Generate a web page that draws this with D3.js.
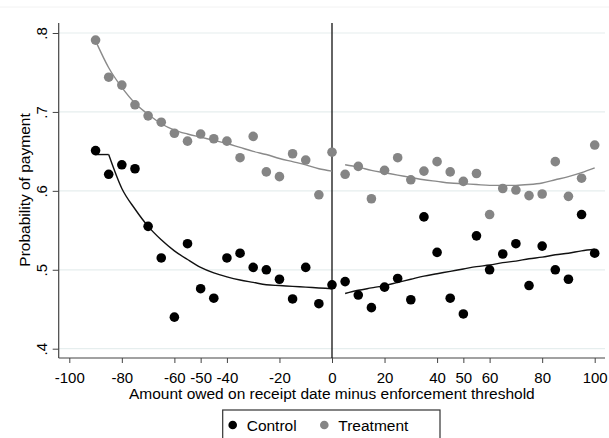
<!DOCTYPE html>
<html><head><meta charset="utf-8">
<script src="https://cdn.jsdelivr.net/npm/d3@7"></script>
<style>body{margin:0;background:#fff}svg{display:block;font-family:"Liberation Sans",Arial,sans-serif}</style>
</head><body>
<svg id="c" width="609" height="438"></svg>
<script>
const xs = [-90,-85,-80,-75,-70,-65,-60,-55,-50,-45,-40,-35,-30,-25,-20,-15,-10,-5,0,5,10,15,20,25,30,35,40,45,50,55,60,65,70,75,80,85,90,95,100];
const controlVals = [0.651,0.621,0.633,0.628,0.555,0.515,0.440,0.533,0.476,0.464,0.515,0.521,0.503,0.500,0.488,0.463,0.503,0.457,0.481,0.485,0.468,0.452,0.478,0.489,0.462,0.567,0.522,0.464,0.444,0.543,0.500,0.520,0.533,0.480,0.530,0.500,0.488,0.570,0.521];
const treatmentVals = [0.791,0.744,0.734,0.709,0.695,0.687,0.673,0.663,0.672,0.666,0.663,0.642,0.669,0.624,0.618,0.647,0.639,0.595,0.649,0.621,0.631,0.590,0.626,0.642,0.614,0.625,0.637,0.624,0.612,0.622,0.570,0.603,0.601,0.594,0.596,0.637,0.593,0.616,0.658];
const fitXLeft = [-90,-85,-80,-75,-70,-65,-60,-55,-50,-45,-40,-35,-30,-25,-20,-15,-10,-5,0];
const fitXRight = [5,10,15,20,25,30,35,40,45,50,55,60,65,70,75,80,85,90,95,100];
const controlFitLeft = [0.646,0.646,0.603,0.577,0.555,0.538,0.524,0.513,0.503,0.496,0.491,0.487,0.484,0.481,0.480,0.479,0.478,0.477,0.476];
const controlFitRight = [0.470,0.474,0.477,0.480,0.484,0.488,0.492,0.495,0.498,0.501,0.504,0.506,0.509,0.511,0.514,0.516,0.519,0.521,0.524,0.526];
const treatFitLeft = [0.790,0.756,0.731,0.711,0.697,0.685,0.677,0.672,0.668,0.664,0.660,0.655,0.650,0.646,0.641,0.637,0.633,0.628,0.625];
const treatFitRight = [0.633,0.630,0.626,0.623,0.620,0.617,0.614,0.612,0.610,0.609,0.608,0.607,0.607,0.607,0.608,0.610,0.614,0.618,0.623,0.629];
const xTicks = [-100,-80,-60,-50,-40,-20,0,20,40,50,60,80,100];
const yTicks = [0.4,0.5,0.6,0.7,0.8];
const yTickLabels = [".4",".5",".6",".7",".8"];

(function(){
const svg = d3.select("#c");
const x = d3.scaleLinear().domain([-100,100]).range([69.3,594.7]);
const y = d3.scaleLinear().domain([0.4,0.8]).range([348.7,33]);
const pL = 58.7, pR = 605, pT = 23, pB = 358;
const FS = 15, FT = 15.5;

svg.append("line").attr("x1",0).attr("x2",609).attr("y1",7).attr("y2",7).attr("stroke","#f2f2f2");

svg.append("g").selectAll("line").data(yTicks).join("line")
  .attr("x1",pL).attr("x2",pR).attr("y1",d=>y(d)).attr("y2",d=>y(d))
  .attr("stroke","#e6eeee").attr("stroke-width",1.2);

const ya = svg.append("g").attr("transform",`translate(${pL},0)`)
  .call(d3.axisLeft(y).tickValues(yTicks).tickSize(6).tickFormat((d,i)=>yTickLabels[i]));
ya.select(".domain").remove();
ya.selectAll(".tick line").attr("stroke","#444");
ya.selectAll(".tick text").attr("font-size",FS).attr("fill","#000")
  .attr("transform","rotate(-90)").attr("x",0).attr("dy",null)
  .attr("text-anchor","middle").attr("y",-11.5);
svg.append("line").attr("x1",pL).attr("x2",pL).attr("y1",pT).attr("y2",pB).attr("stroke","#444").attr("stroke-width",1.2);

const xa = svg.append("g").attr("transform",`translate(0,${pB})`)
  .call(d3.axisBottom(x).tickValues(xTicks).tickSize(5).tickFormat(d=>String(d)));
xa.select(".domain").remove();
xa.selectAll(".tick line").attr("stroke","#444");
xa.selectAll(".tick text").attr("font-size",FS).attr("fill","#000").attr("y",25).attr("dy",null);
svg.append("line").attr("x1",pL).attr("x2",pR).attr("y1",pB).attr("y2",pB).attr("stroke","#444").attr("stroke-width",1.2);

svg.append("line").attr("x1",x(0)).attr("x2",x(0)).attr("y1",pT).attr("y2",pB).attr("stroke","#111").attr("stroke-width",1.3);

svg.append("text").attr("x",(pL+pR)/2).attr("y",399).attr("text-anchor","middle").attr("font-size",FT)
  .text("Amount owed on receipt date minus enforcement threshold");
svg.append("text").attr("transform","translate(30,190) rotate(-90)").attr("text-anchor","middle").attr("font-size",FT)
  .text("Probability of payment");

const line = d3.line().x(d=>x(d[0])).y(d=>y(d[1])).curve(d3.curveMonotoneX);
function fit(xsArr, vals, color, w){
  svg.append("path").datum(xsArr.map((v,i)=>[v,vals[i]])).attr("d",line)
    .attr("fill","none").attr("stroke",color).attr("stroke-width",w);
}
fit(fitXLeft.slice(0,2), controlFitLeft.slice(0,2), "#111", 1.4);
fit(fitXLeft.slice(1), controlFitLeft.slice(1), "#111", 1.4);
fit(fitXRight, controlFitRight, "#111", 1.4);
fit(fitXLeft, treatFitLeft, "#8a8a8a", 1.4);
fit(fitXRight, treatFitRight, "#8a8a8a", 1.4);

const R = 4.8;
svg.append("g").selectAll("circle").data(xs.map((v,i)=>[v,treatmentVals[i]])).join("circle")
  .attr("cx",d=>x(d[0])).attr("cy",d=>y(d[1])).attr("r",R).attr("fill","#858585");
svg.append("g").selectAll("circle").data(xs.map((v,i)=>[v,controlVals[i]])).join("circle")
  .attr("cx",d=>x(d[0])).attr("cy",d=>y(d[1])).attr("r",R).attr("fill","#000");

const lg = svg.append("g");
lg.append("rect").attr("x",222.7).attr("y",410).attr("width",217.3).attr("height",40).attr("fill","#fff").attr("stroke","#333").attr("stroke-width",1.2);
const legendItems = [["Control","#000",232.7],["Treatment","#858585",324.3]];
legendItems.forEach(([name,col,lx])=>{
  lg.append("circle").attr("cx",lx).attr("cy",425).attr("r",4.3).attr("fill",col);
  lg.append("text").attr("x",lx+14).attr("y",430.5).attr("font-size",FT).text(name);
});
})();
</script>
</body></html>
